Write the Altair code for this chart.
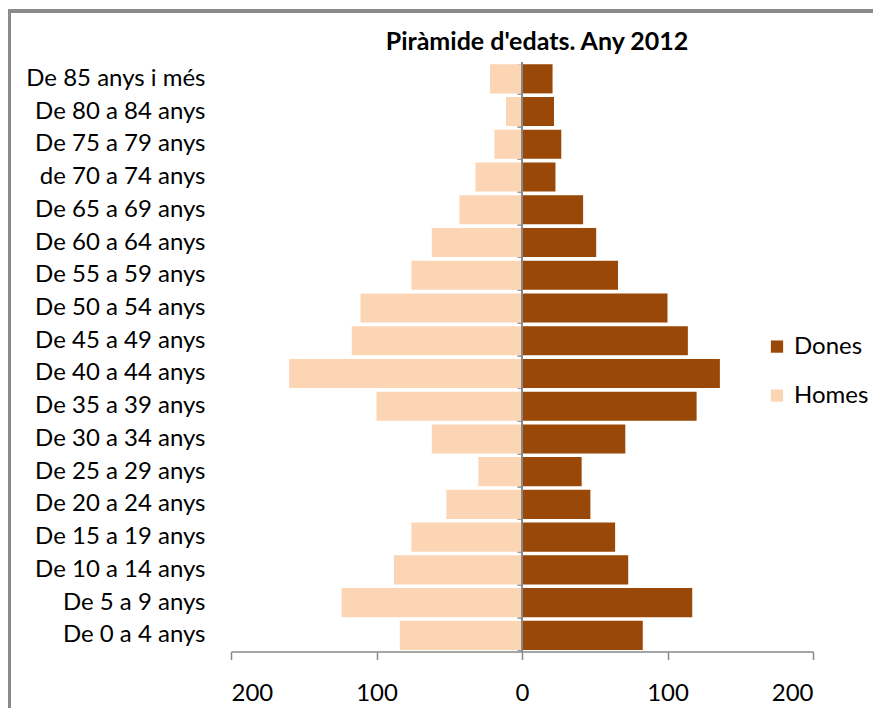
import altair as alt
import pandas as pd

ages = ["De 85 anys i més", "De 80 a 84 anys", "De 75 a 79 anys", "de 70 a 74 anys",
        "De 65 a 69 anys", "De 60 a 64 anys", "De 55 a 59 anys", "De 50 a 54 anys",
        "De 45 a 49 anys", "De 40 a 44 anys", "De 35 a 39 anys", "De 30 a 34 anys",
        "De 25 a 29 anys", "De 20 a 24 anys", "De 15 a 19 anys", "De 10 a 14 anys",
        "De 5 a 9 anys", "De 0 a 4 anys"]
dones = [21, 22, 27, 23, 42, 51, 66, 100, 114, 136, 120, 71, 41, 47, 64, 73, 117, 83]
homes = [22, 11, 19, 32, 43, 62, 76, 111, 117, 160, 100, 62, 30, 52, 76, 88, 124, 84]
title_text = ["Piràmide d'edats. Any 2012"]

rows = []
for a, d, h in zip(ages, dones, homes):
    rows.append({"edat": a, "sexe": "Dones", "valor": d})
    rows.append({"edat": a, "sexe": "Homes", "valor": -h})
df = pd.DataFrame(rows)

FONT = "Lato"
W, H = 582, 589

bars = alt.Chart(df).mark_bar().encode(
    y=alt.Y("edat:N", sort=ages, title=None,
            scale=alt.Scale(paddingInner=0.11, paddingOuter=0.05),
            axis=alt.Axis(orient="left", ticks=False, domain=False, grid=False, labelPadding=26,
                          labelFont=FONT, labelFontSize=24, labelColor="#000000")),
    x=alt.X("valor:Q", title=None,
            scale=alt.Scale(domain=[-200, 200], nice=False),
            axis=alt.Axis(values=[-200, -100, 0, 100, 200], labelExpr="abs(datum.value)",
                          grid=False, domainColor="#888888", tickColor="#888888",
                          tickSize=8, domainWidth=1.5, tickWidth=1.5, labelPadding=22,
                          labelFont=FONT, labelFontSize=24, labelColor="#000000")),
    color=alt.Color("sexe:N", title=None,
                    scale=alt.Scale(domain=["Dones", "Homes"], range=["#994807", "#FCD5B5"]),
                    legend=alt.Legend(orient="none", legendX=534, legendY=272,
                                      symbolType="square", symbolSize=150,
                                      symbolStrokeWidth=0, rowPadding=25,
                                      labelFont=FONT, labelFontSize=24, labelColor="#000000",
                                      labelOffset=5)),
)

center = alt.Chart(df).mark_rule(color="#888888", strokeWidth=1.5).encode(x=alt.datum(0))

ticks = alt.Chart(df).mark_point(opacity=0).encode(
    y=alt.Y("edat:N", sort=ages, title=None,
            axis=alt.Axis(orient="left", offset=-W / 2, labels=False, domain=False, grid=False,
                          ticks=True, tickBand="extent", tickSize=5,
                          tickColor="#888888", tickWidth=1.5)),
    x=alt.X("valor:Q"),
)

title = alt.Chart(pd.DataFrame({"t": title_text})).mark_text(
    font=FONT, fontSize=25, fontWeight="bold", color="#000000", align="center",
    baseline="middle").encode(text="t:N", x=alt.value(W / 2 + 15), y=alt.value(-21))

border_top = alt.Chart(df).mark_rule(color="#8a8a8a", strokeWidth=3).encode(
    x=alt.value(-223), x2=alt.value(W + 70), y=alt.value(-51.6))
border_left = alt.Chart(df).mark_rule(color="#8a8a8a", strokeWidth=3).encode(
    x=alt.value(-222), y=alt.value(-53), y2=alt.value(H + 80))

chart = alt.layer(bars, ticks, center, title, border_top, border_left).resolve_axis(
    y="independent").properties(
    width=W, height=H, background="white",
    autosize=alt.AutoSizeParams(type="none"),
    padding={"left": 223, "top": 54.6, "right": 60, "bottom": 56},
).configure_view(strokeWidth=0, stroke="transparent").configure_axis(grid=False)

chart.save("out.html", embed_options={"renderer": "svg", "actions": False})
